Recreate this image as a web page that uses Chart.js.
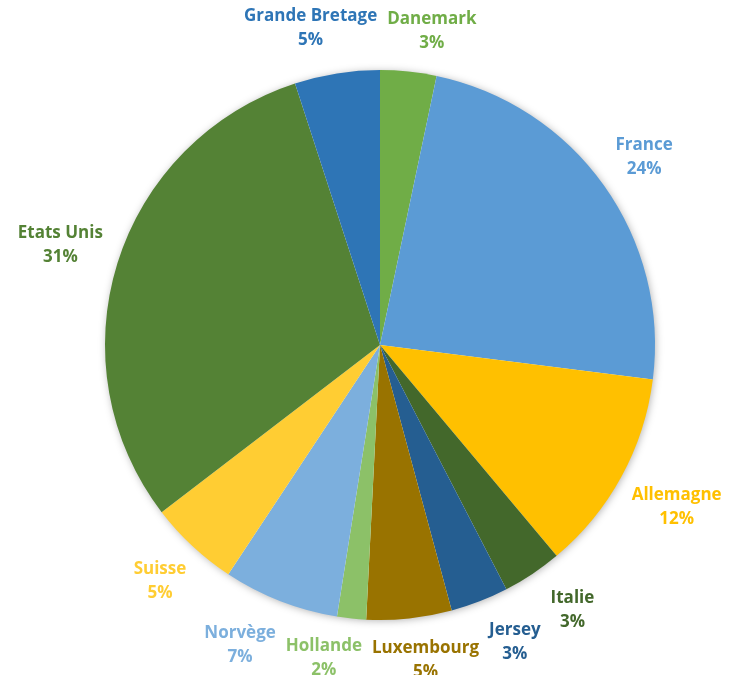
<!DOCTYPE html>
<html>
<head>
<meta charset="utf-8">
<title>Répartition par pays</title>
<script src="https://cdn.jsdelivr.net/npm/chart.js@4.4.1/dist/chart.umd.min.js"></script>
<style>
    html, body { margin: 0; padding: 0; background: #fff; }
    #wrap { width: 731px; height: 675px; position: relative; }
</style>
</head>
<body>
<div id="wrap"><canvas id="pieChart"></canvas></div>
<script>
// Slices, clockwise from 12 o'clock
const countries = ['Danemark', 'France', 'Allemagne', 'Italie', 'Jersey', 'Luxembourg',
    'Hollande', 'Norvège', 'Suisse', 'Etats Unis', 'Grande Bretage'];
const shares = [3.3, 23.7, 11.9, 3.5, 3.4, 5.0, 1.7, 6.8, 5.3, 30.4, 5.0];
const shareLabels = ['3%', '24%', '12%', '3%', '3%', '5%', '2%', '7%', '5%', '31%', '5%'];
const sliceColors = ['#70AD47', '#5B9BD5', '#FFC000', '#43682B', '#255E91', '#997300',
    '#8CC168', '#7CAFDD', '#FFCD33', '#548235', '#2E75B6'];

const labelFont = 'bold 17px "Open Sans", Lato, sans-serif';
const lineGap = 24;

// soft shadow under the pie
const pieShadow = {
    id: 'pieShadow',
    beforeDatasetsDraw(chart) {
        const arc = chart.getDatasetMeta(0).data[0];
        if (!arc) return;
        const ctx = chart.ctx;
        ctx.save();
        ctx.shadowColor = 'rgba(0,0,0,0.35)';
        ctx.shadowBlur = 9;
        ctx.shadowOffsetX = 1;
        ctx.shadowOffsetY = 1;
        ctx.fillStyle = '#fff';
        ctx.beginPath();
        ctx.arc(arc.x, arc.y, arc.outerRadius - 1, 0, Math.PI * 2);
        ctx.fill();
        ctx.restore();
    }
};

// outside labels (name + percent), pushed apart when they collide
const outsideLabels = {
    id: 'outsideLabels',
    afterDatasetsDraw(chart) {
        const ctx = chart.ctx;
        const meta = chart.getDatasetMeta(0);
        ctx.save();
        ctx.font = labelFont;
        ctx.textAlign = 'center';
        ctx.textBaseline = 'middle';

        const boxes = meta.data.map((arc, i) => {
            const mid = (arc.startAngle + arc.endAngle) / 2;
            const w = Math.max(ctx.measureText(countries[i]).width, ctx.measureText(shareLabels[i]).width);
            const h = lineGap * 2;
            const c = Math.cos(mid), s = Math.sin(mid);
            const dist = arc.outerRadius + 12 + (w / 2) * Math.abs(c) + (h / 2) * Math.abs(s);
            return { x: arc.x + c * dist, y: arc.y + s * dist, w: w, h: h };
        });

        for (let it = 0; it < 60; it++) {
            for (let a = 0; a < boxes.length; a++) {
                for (let b = a + 1; b < boxes.length; b++) {
                    const A = boxes[a], B = boxes[b];
                    const ox = (A.w + B.w) / 2 + 10 - Math.abs(A.x - B.x);
                    const oy = (A.h + B.h) / 2 - 4 - Math.abs(A.y - B.y);
                    if (ox > 0 && oy > 0) {
                        const dir = A.x < B.x ? -1 : 1;
                        A.x += dir * ox / 2;
                        B.x -= dir * ox / 2;
                    }
                }
            }
        }

        boxes.forEach((bx, i) => {
            ctx.fillStyle = sliceColors[i];
            ctx.fillText(countries[i], bx.x, bx.y - lineGap / 2);
            ctx.fillText(shareLabels[i], bx.x, bx.y + lineGap / 2);
        });
        ctx.restore();
    }
};

new Chart(document.getElementById('pieChart'), {
    type: 'pie',
    data: {
        labels: countries,
        datasets: [{
            data: shares,
            backgroundColor: sliceColors,
            borderWidth: 0
        }]
    },
    options: {
        responsive: true,
        maintainAspectRatio: false,
        animation: false,
        layout: { padding: { top: 70, bottom: 55, left: 105, right: 76 } },
        plugins: {
            legend: { display: false },
            tooltip: { enabled: false }
        }
    },
    plugins: [pieShadow, outsideLabels]
});
</script>
</body>
</html>
